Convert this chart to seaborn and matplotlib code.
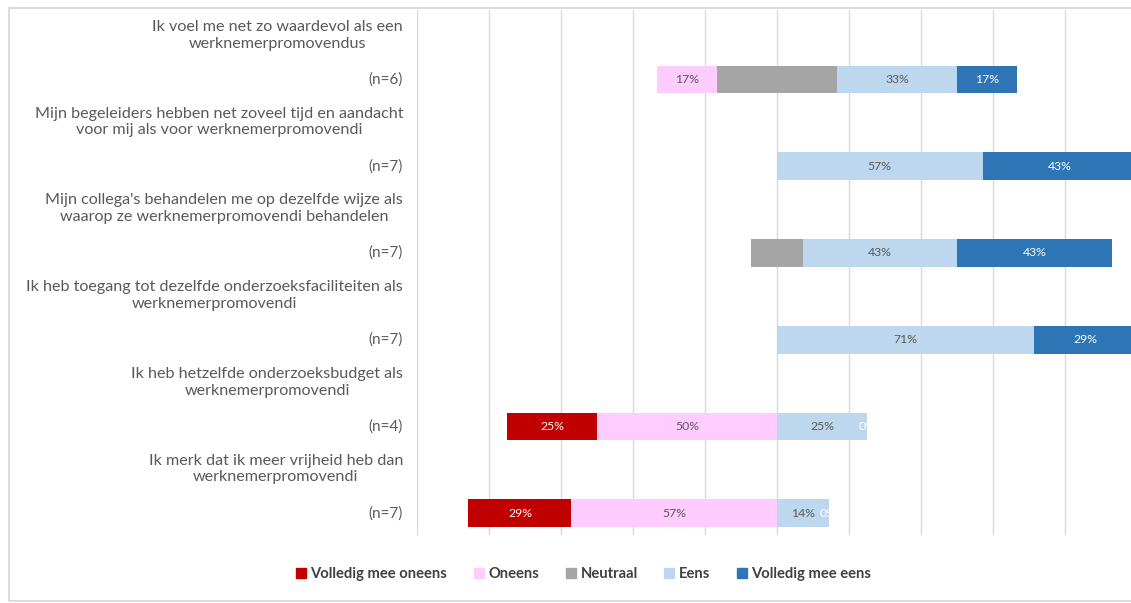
import matplotlib
matplotlib.use("Agg")
import matplotlib.pyplot as plt
import matplotlib.transforms as mtransforms
from matplotlib.lines import Line2D
from matplotlib.patches import Rectangle
import seaborn as sns
import numpy as np
import pandas as pd

# stellingen en aantal respondenten
stellingen = [
    "Ik voel me net zo waardevol als een\nwerknemerpromovendus",
    "Mijn begeleiders hebben net zoveel tijd en aandacht\nvoor mij als voor werknemerpromovendi",
    "Mijn collega's behandelen me op dezelfde wijze als\nwaarop ze werknemerpromovendi behandelen",
    "Ik heb toegang tot dezelfde onderzoeksfaciliteiten als\nwerknemerpromovendi",
    "Ik heb hetzelfde onderzoeksbudget als\nwerknemerpromovendi",
    "Ik merk dat ik meer vrijheid heb dan\nwerknemerpromovendi",
]
aantallen = ["(n=6)", "(n=7)", "(n=7)", "(n=7)", "(n=4)", "(n=7)"]

# percentages per antwoordcategorie
volledig_oneens = [0, 0, 0, 0, 25.0, 28.6]
oneens = [16.7, 0, 0, 0, 50.0, 57.1]
neutraal = [33.3, 0, 14.3, 0, 0, 0]
eens = [33.3, 57.1, 42.9, 71.4, 25.0, 14.3]
volledig_eens = [16.7, 42.9, 42.9, 28.6, 0, 0]

categorieen = ["Volledig mee oneens", "Oneens", "Neutraal", "Eens", "Volledig mee eens"]
kleuren = ["#C00000", "#FFCCFF", "#A5A5A5", "#BDD7EE", "#2E75B6"]

sns.set_style("white")
plt.rcParams["font.family"] = ["Lato", "DejaVu Sans"]

df = pd.DataFrame({
    "stelling": stellingen,
    "vmo": volledig_oneens,
    "oneens": oneens,
    "neutraal": neutraal,
    "eens": eens,
    "vme": volledig_eens,
})
half = df["neutraal"] / 2

fig = plt.figure(figsize=(11.31, 6.03), dpi=100)
ax = fig.add_axes([417 / 1131, 68 / 603, 714 / 1131, 525 / 603])

# diverging gestapelde balken: langste eerst, kortere eroverheen
lagen = [
    (half + df["eens"] + df["vme"], kleuren[4]),
    (half + df["eens"], kleuren[3]),
    (half, kleuren[2]),
    (-(half + df["oneens"] + df["vmo"]), kleuren[0]),
    (-(half + df["oneens"]), kleuren[1]),
    (-half, kleuren[2]),
]
for waarden, kleur in lagen:
    sns.barplot(x=waarden, y=df["stelling"], orient="h", color=kleur,
                saturation=1, width=0.32, errorbar=None, linewidth=0, ax=ax)

# labels in de balken
for i, r in df.iterrows():
    h = r["neutraal"] / 2
    segmenten = [
        (r["vmo"], -(h + r["oneens"] + r["vmo"] / 2), "white"),
        (r["oneens"], -(h + r["oneens"] / 2), "#595959"),
        (r["eens"], h + r["eens"] / 2, "#595959"),
        (r["vme"], h + r["eens"] + r["vme"] / 2, "white"),
    ]
    for j, (v, xpos, kl) in enumerate(segmenten):
        if v > 0 or j == 3:
            ax.text(xpos, i, f"{v:.0f}%", ha="center", va="center",
                    fontsize=8.8, color=kl)

ax.set_xlim(-100, 98.3)
ax.set_ylim(5.25, -0.8)
ax.set_xticks(np.arange(-100, 99, 20))
ax.set_xticklabels([])
ax.set_yticks([])
ax.set_xlabel("")
ax.set_ylabel("")
ax.tick_params(length=0)
ax.grid(axis="x", color="#D9D9D9", linewidth=1)
ax.set_axisbelow(True)
for s in ax.spines.values():
    s.set_visible(False)

# as-labels links van de grafiek
trans = mtransforms.blended_transform_factory(ax.transAxes, ax.transData)
for i, (st, n) in enumerate(zip(stellingen, aantallen)):
    ax.text(-0.0196, i - 0.51, st, transform=trans, ha="right", va="center",
            multialignment="center", fontsize=11.6, color="#595959",
            linespacing=1.25, clip_on=False)
    ax.text(-0.0196, i, n, transform=trans, ha="right", va="center",
            fontsize=11, color="#595959", clip_on=False)

handles = [Line2D([], [], marker="s", linestyle="none", markersize=6.5,
                  markerfacecolor=k, markeredgecolor=k) for k in kleuren]
leg = fig.legend(handles, categorieen, loc="center", bbox_to_anchor=(0.516, 0.048),
                 ncol=5, frameon=False, handlelength=0.7, handletextpad=0.3,
                 columnspacing=1.8, prop={"size": 10.6, "weight": "bold"})
for t in leg.get_texts():
    t.set_color("#404040")

# kader rond de grafiek
fig.patches.append(Rectangle((9 / 1131, 2 / 603), 1.2, 593 / 603,
                             transform=fig.transFigure, fill=False,
                             edgecolor="#D9D9D9", linewidth=1.3))

fig.savefig("out.png", dpi=100)
